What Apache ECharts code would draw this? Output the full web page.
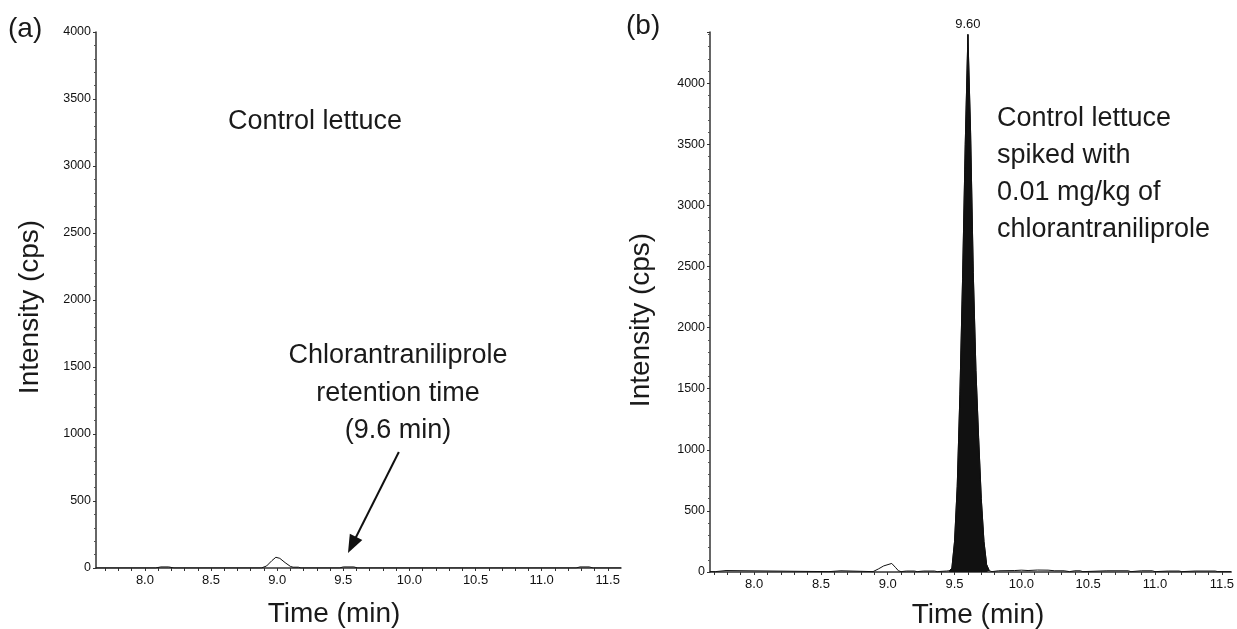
<!DOCTYPE html>
<html><head><meta charset="utf-8">
<script src="https://cdn.jsdelivr.net/npm/echarts@6/dist/echarts.min.js"></script>
<style>html,body{margin:0;padding:0;background:#fff}#c{width:1237px;height:629px}</style>
</head><body><div id="c"></div>
<script>
// ---- data ----
const leftTime = [7.63, 8.08, 8.12, 8.18, 8.22, 8.88, 8.92, 8.96, 8.99, 9.02, 9.06, 9.10, 9.12, 9.16, 9.18, 9.47, 9.50, 9.58, 9.61, 11.26, 11.29, 11.36, 11.39, 11.60];
const leftIntensity = [0, 0, 8, 8, 0, 0, 15, 55, 80, 72, 40, 12, 6, 6, 0, 0, 8, 8, 0, 0, 8, 8, 0, 0];

const rightTime = [7.67, 7.71, 7.72, 7.79, 7.80, 8.56, 8.57, 8.65, 8.66, 8.89, 8.93, 8.97, 9.03, 9.06, 9.08, 9.10, 9.14, 9.20, 9.22, 9.27, 9.35, 9.37, 9.44,
  9.46, 9.48, 9.50, 9.52, 9.54, 9.56, 9.58, 9.60, 9.62, 9.64, 9.66, 9.68, 9.70, 9.72, 9.74, 9.76,
  9.78, 9.83, 9.95, 10.00, 10.05, 10.12, 10.20, 10.25, 10.32, 10.36, 10.40, 10.44, 10.46, 10.64, 10.80, 10.82, 10.90, 10.98, 11.00, 11.10, 11.18, 11.20, 11.30, 11.45, 11.47, 11.57];
const rightIntensity = [3, 3, 12, 12, 3, 3, 10, 10, 3, 3, 25, 50, 70, 35, 10, 3, 8, 8, 3, 8, 8, 3, 8,
  10, 30, 250, 700, 1450, 2400, 3500, 4400, 3600, 2450, 1650, 1100, 600, 250, 60, 10,
  3, 10, 12, 15, 12, 16, 15, 10, 10, 3, 10, 10, 3, 10, 10, 3, 10, 10, 3, 8, 8, 3, 8, 8, 3, 3];
// integrated (filled) peak window
const peakStart = 9.46, peakEnd = 9.76;

const xTickLabels = [8.0, 8.5, 9.0, 9.5, 10.0, 10.5, 11.0, 11.5];
const xMinorTicks = [7.7, 7.8, 7.9, 8.0, 8.1, 8.2, 8.3, 8.4, 8.5, 8.6, 8.7, 8.8, 8.9, 9.0, 9.1, 9.2, 9.3, 9.4, 9.5, 9.6, 9.7, 9.8, 9.9,
  10.0, 10.1, 10.2, 10.3, 10.4, 10.5, 10.6, 10.7, 10.8, 10.9, 11.0, 11.1, 11.2, 11.3, 11.4, 11.5];
const peakLabel = '9.60';
const peakTime = 9.60, peakValue = 4400;
const arrowFrom = [9.92, 866], arrowTo = [9.566, 172];

// ---- chart ----
const FONT = '"Liberation Sans", Arial, sans-serif';
const axisColor = '#333';
const chart = echarts.init(document.getElementById('c'), null, {renderer: 'canvas'});

function xAxis(gi, min, max) {
  return {
    type: 'value', gridIndex: gi, min: min, max: max,
    axisLine: {show: true, onZero: false, lineStyle: {color: axisColor, width: 1.5}},
    axisTick: {show: true, length: 3, inside: false, customValues: xMinorTicks, lineStyle: {color: axisColor, width: 1}},
    axisLabel: {customValues: xTickLabels, formatter: v => v.toFixed(1), color: '#111', fontSize: 13, fontFamily: FONT, margin: 6},
    splitLine: {show: false}
  };
}
function yAxis(gi, max) {
  return {
    type: 'value', gridIndex: gi, min: 0, max: max, interval: 500,
    axisLine: {show: true, lineStyle: {color: axisColor, width: 1.5}},
    axisTick: {show: true, length: 3, lineStyle: {color: axisColor, width: 1}},
    minorTick: {show: true, splitNumber: 5, length: 2, lineStyle: {color: '#555', width: 1}},
    axisLabel: {color: '#111', fontSize: 12.5, fontFamily: FONT, margin: 5, showMaxLabel: max % 500 === 0, formatter: v => String(v)},
    splitLine: {show: false}
  };
}

const rightPairs = rightTime.map((t, i) => [t, rightIntensity[i]]);
const peakPairs = rightPairs.filter(p => p[0] >= peakStart && p[0] <= peakEnd);

const option = {
  backgroundColor: '#fff',
  animation: false,
  grid: [
    {left: 96, right: 616, top: 32, bottom: 61},
    {left: 710, right: 0, top: 32, bottom: 57}
  ],
  xAxis: [xAxis(0, 7.63, 11.6), xAxis(1, 7.67, 11.57)],
  yAxis: [yAxis(0, 4000), yAxis(1, 4420)],
  series: [
    {
      type: 'line', xAxisIndex: 0, yAxisIndex: 0, showSymbol: false, symbol: 'none',
      lineStyle: {color: '#111', width: 1}, silent: true,
      data: leftTime.map((t, i) => [t, leftIntensity[i]]),
      markLine: {
        silent: true, animation: false, symbol: ['none', 'triangle'], symbolSize: [14, 18],
        lineStyle: {color: '#111', width: 2, type: 'solid'}, label: {show: false},
        emphasis: {disabled: true},
        data: [[{coord: arrowFrom}, {coord: arrowTo}]]
      }
    },
    {
      type: 'line', xAxisIndex: 1, yAxisIndex: 1, showSymbol: false, symbol: 'none',
      lineStyle: {color: '#111', width: 1}, silent: true,
      data: rightPairs
    },
    {
      type: 'line', xAxisIndex: 1, yAxisIndex: 1, showSymbol: false, symbol: 'none',
      lineStyle: {color: '#111', width: 1}, areaStyle: {color: '#111', opacity: 1}, silent: true,
      data: peakPairs,
      markPoint: {
        silent: true, symbol: 'rect', symbolSize: [1, 1], itemStyle: {color: 'rgba(0,0,0,0)'},
        label: {show: true, position: 'top', distance: 3, formatter: peakLabel, color: '#111', fontSize: 13, fontFamily: FONT},
        data: [{coord: [peakTime, peakValue]}]
      }
    }
  ],
  graphic: [
    {type: 'text', x: 8, y: 29, style: {text: '(a)', font: '28px ' + FONT, fill: '#1a1a1a', textVerticalAlign: 'middle'}},
    {type: 'text', x: 626, y: 26, style: {text: '(b)', font: '28px ' + FONT, fill: '#1a1a1a', textVerticalAlign: 'middle'}},
    {type: 'text', x: 30, y: 307, rotation: Math.PI / 2, style: {text: 'Intensity (cps)', font: '28px ' + FONT, fill: '#1a1a1a', textAlign: 'center', textVerticalAlign: 'middle'}},
    {type: 'text', x: 641, y: 320, rotation: Math.PI / 2, style: {text: 'Intensity (cps)', font: '28px ' + FONT, fill: '#1a1a1a', textAlign: 'center', textVerticalAlign: 'middle'}},
    {type: 'text', x: 334, y: 614, style: {text: 'Time (min)', font: '28px ' + FONT, fill: '#1a1a1a', textAlign: 'center', textVerticalAlign: 'middle'}},
    {type: 'text', x: 978, y: 615, style: {text: 'Time (min)', font: '28px ' + FONT, fill: '#1a1a1a', textAlign: 'center', textVerticalAlign: 'middle'}},
    {type: 'text', x: 228, y: 122, style: {text: 'Control lettuce', font: '27px ' + FONT, fill: '#1a1a1a', textVerticalAlign: 'middle'}},
    {type: 'text', x: 398, y: 337, style: {text: 'Chlorantraniliprole\nretention time\n(9.6 min)', font: '27px ' + FONT, lineHeight: 37.5, fill: '#1a1a1a', textAlign: 'center', textVerticalAlign: 'top'}},
    {type: 'text', x: 997, y: 100, style: {text: 'Control lettuce\nspiked with\n0.01 mg/kg of\nchlorantraniliprole', font: '27px ' + FONT, lineHeight: 37, fill: '#1a1a1a', textAlign: 'left', textVerticalAlign: 'top'}}
  ]
};
chart.setOption(option);
</script>
</body></html>
